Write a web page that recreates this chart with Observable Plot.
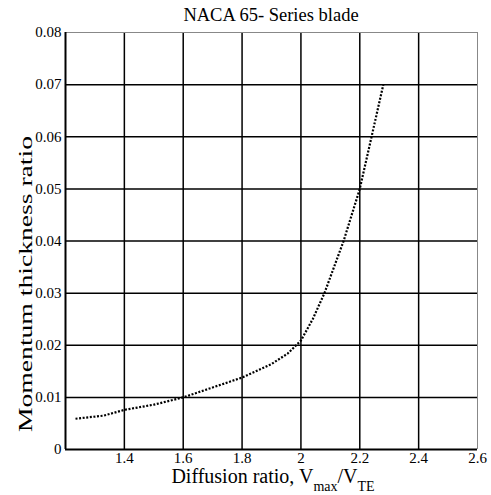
<!DOCTYPE html>
<html><head><meta charset="utf-8">
<script src="https://cdn.jsdelivr.net/npm/d3@7"></script>
<script src="https://cdn.jsdelivr.net/npm/@observablehq/plot@0.6"></script>
<style>html,body{margin:0;padding:0;background:#fff} svg{display:block} svg text{font-family:'Liberation Serif','Times New Roman',serif !important}</style>
</head><body><div id="chart"></div>
<script>
const titleText = "NACA 65- Series blade";
const yLabelText = "Momentum thickness ratio";
const diffusionRatio = [1.234, 1.33, 1.4, 1.5, 1.6, 1.7, 1.8, 1.9, 1.955, 2.0, 2.04, 2.08, 2.145, 2.2, 2.24, 2.28];
const momentumThickness = [0.0059, 0.0065, 0.0076, 0.0086, 0.0100, 0.0119, 0.0138, 0.0164, 0.0184, 0.0209, 0.0250, 0.0300, 0.0400, 0.0500, 0.0600, 0.0700];
const xTicks = [1.4, 1.6, 1.8, 2, 2.2, 2.4, 2.6];
const yTicks = [0, 0.01, 0.02, 0.03, 0.04, 0.05, 0.06, 0.07, 0.08];
const xGrid = [1.4, 1.6, 1.8, 2, 2.2, 2.4];
const yGrid = [0.01, 0.02, 0.03, 0.04, 0.05, 0.06, 0.07];
const xDomain = [1.2, 2.6];
const yDomain = [0, 0.08];

const data = diffusionRatio.map((x, i) => ({x, y: momentumThickness[i]}));
const W = 491, H = 495, mL = 65, mR = 14, mT = 32, mB = 46;
const ff = "'Liberation Serif', 'Times New Roman', serif";

const chart = Plot.plot({
  width: W, height: H,
  marginLeft: mL, marginRight: mR, marginTop: mT, marginBottom: mB,
  style: {fontFamily: ff, fontSize: "15px", color: "#000", background: "#fff", overflow: "visible"},
  x: {domain: xDomain, label: null},
  y: {domain: yDomain, label: null},
  marks: [
    Plot.axisX(xTicks, {tickSize: 0, tickPadding: 3, label: null, tickFormat: d => String(d), fontFamily: ff, fontSize: 15}),
    Plot.axisY(yTicks, {tickSize: 0, tickPadding: 4, label: null, tickFormat: d => String(d), fontFamily: ff, fontSize: 15}),
    Plot.ruleX(xGrid, {stroke: "#000", strokeWidth: 1.5}),
    Plot.ruleY(yGrid, {stroke: "#000", strokeWidth: 1.5}),
    Plot.ruleX([xDomain[1]], {stroke: "#888", strokeWidth: 1}),
    Plot.ruleY([yDomain[1]], {stroke: "#888", strokeWidth: 1}),
    Plot.ruleX([xDomain[0]], {stroke: "#000", strokeWidth: 2}),
    Plot.ruleY([yDomain[0]], {stroke: "#000", strokeWidth: 2}),
    Plot.line(data, {x: "x", y: "y", stroke: "#000", strokeWidth: 2.2, strokeDasharray: "2,1.6", strokeLinecap: "butt"})
  ]
});
document.getElementById("chart").appendChild(chart);

const svg = d3.select(chart);
svg.selectAll("text").attr("font-family", ff);
svg.append("text")
  .attr("x", (mL + W - mR) / 2).attr("y", 21)
  .attr("text-anchor", "middle").attr("font-family", ff).attr("font-size", 18.5).attr("fill", "#000")
  .text(titleText);

const xl = svg.append("text")
  .attr("x", 273).attr("y", 483)
  .attr("text-anchor", "middle").attr("font-family", ff).attr("font-size", 20).attr("fill", "#000");
xl.append("tspan").text("Diffusion ratio, V");
xl.append("tspan").attr("font-size", 14).attr("dy", 8).text("max");
xl.append("tspan").attr("dy", -8).text("/V");
xl.append("tspan").attr("font-size", 14).attr("dy", 8).text("TE");

svg.append("text")
  .attr("transform", "translate(32,284) rotate(-90)")
  .attr("text-anchor", "middle").attr("font-family", ff).attr("font-size", 19).attr("fill", "#000")
  .attr("textLength", 296).attr("lengthAdjust", "spacingAndGlyphs")
  .text(yLabelText);
</script>
</body></html>
